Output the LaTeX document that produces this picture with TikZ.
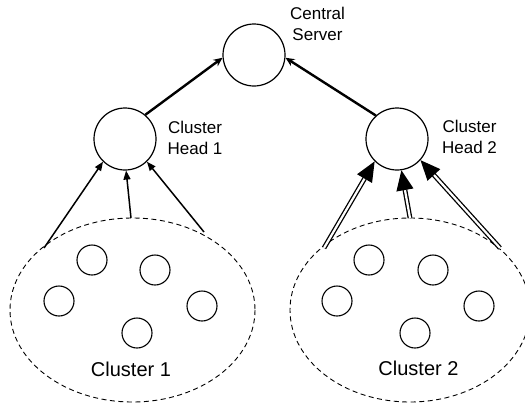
\documentclass[tikz,border=0pt]{standalone}
\usepackage{fontspec}
\setmainfont{Liberation Sans}
\usetikzlibrary{arrows.meta}
\begin{document}
\begin{tikzpicture}[x=1pt,y=-1pt,
  bignode/.style={draw,circle,line width=1.2pt,minimum size=62pt,inner sep=0pt},
  member/.style={draw,circle,line width=1.1pt,minimum size=30pt,inner sep=0pt},
  cluster/.style={draw,dashed,dash pattern=on 5pt off 3.5pt,line width=0.9pt},
  smalllabel/.style={align=center,inner sep=0pt,font=\fontsize{17}{21}\selectfont},
  biglabel/.style={inner sep=0pt,font=\fontsize{20}{24}\selectfont},
  uplink/.style={line width=2.4pt,-{Stealth[length=9pt,width=8pt]}},
  thinlink/.style={line width=1.5pt,-{Triangle[length=9pt,width=7pt]}},
  dbllink/.style={line width=1.3pt,double=white,double distance=2.2pt,-{Triangle[length=20pt,width=17pt]}}
]
\useasboundingbox (0,0) rectangle (525,405);
\begin{scope}
\clip (0,0) rectangle (525,405);
% clusters
\draw[cluster] (132.5,310) ellipse [x radius=122.5, y radius=92];
\draw[cluster] (410,310) ellipse [x radius=120, y radius=92];
\end{scope}

% main nodes
\node[bignode] (cs) at (254,55) {};
\node[bignode] (h1) at (125,139) {};
\node[bignode] (h2) at (397,139) {};

% labels
\node[smalllabel] (lcs) at (317.5,24) {Central\\Server};
\node[smalllabel] (lh1) at (195,138) {Cluster\\Head 1};
\node[smalllabel] (lh2) at (469.5,136.5) {Cluster\\Head 2};
\node[biglabel] (lc1) at (131,369) {Cluster 1};
\node[biglabel] (lc2) at (418.5,368) {Cluster 2};

% cluster 1 members
\node[member] (a1) at (92,260) {};
\node[member] (a2) at (155,270) {};
\node[member] (a3) at (59,301) {};
\node[member] (a4) at (202,306) {};
\node[member] (a5) at (137,333) {};
% cluster 2 members
\node[member] (b1) at (369,260) {};
\node[member] (b2) at (433,270) {};
\node[member] (b3) at (337,301) {};
\node[member] (b4) at (479,306) {};
\node[member] (b5) at (415,333) {};

% start points on cluster borders
\coordinate (s1) at (44,248);
\coordinate (s2) at (131,218);
\coordinate (s3) at (204,232);
\coordinate (t1) at (324,248);
\coordinate (t2) at (410,218);
\coordinate (t3) at (500,248);

% links
\draw[uplink] (h1.50) -- (cs.185);
\draw[uplink] (h2.132) -- (cs.355);

\draw[thinlink] (s1) -- (h1.226);
\draw[thinlink] (s2) -- (h1.272);
\draw[thinlink] (s3) -- (h1.314);

\draw[dbllink] (t1) -- (h2.225);
\draw[dbllink] (t2) -- (h2.278);
\draw[dbllink] (t3) -- (h2.318);
\end{tikzpicture}
\end{document}
